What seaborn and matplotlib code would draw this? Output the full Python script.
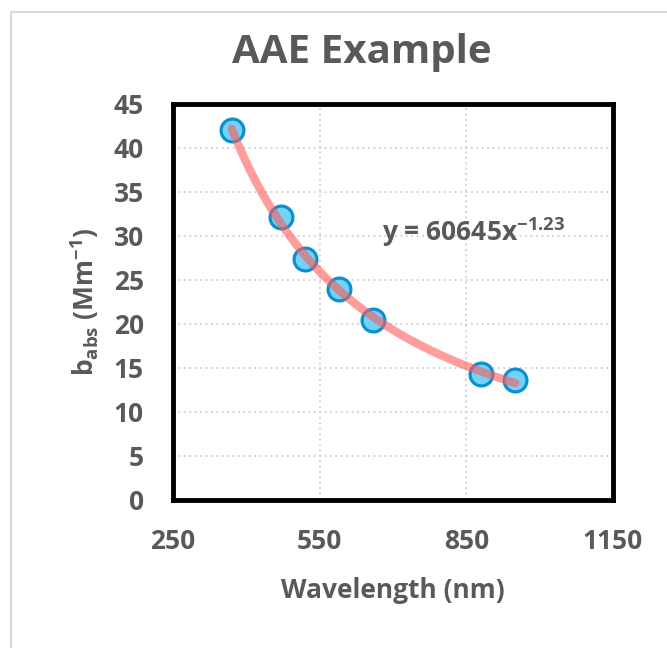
import numpy as np
import pandas as pd
import matplotlib
matplotlib.use("Agg")
import matplotlib.pyplot as plt
import seaborn as sns
from matplotlib.patches import Rectangle

wavelength = [370, 470, 520, 590, 660, 880, 950]
b_abs = [42.0, 32.2, 27.4, 24.0, 20.5, 14.3, 13.6]
x_ticks = [250, 550, 850, 1150]
y_ticks = [0, 5, 10, 15, 20, 25, 30, 35, 40, 45]
title = "AAE Example"
x_label = "Wavelength (nm)"
y_label = r"b$_{abs}$ (Mm$^{-1}$)"
eq_label = r"y = 60645x$^{-1.23}$"

FONT = "Open Sans"
sns.set_theme(style="white")
plt.rcParams["font.family"] = [FONT, "DejaVu Sans"]
plt.rcParams["font.weight"] = "bold"
plt.rcParams["mathtext.fontset"] = "custom"
plt.rcParams["mathtext.rm"] = FONT + ":bold"
plt.rcParams["mathtext.it"] = FONT + ":bold"
plt.rcParams["mathtext.bf"] = FONT + ":bold"
plt.rcParams["mathtext.default"] = "rm"

df = pd.DataFrame({"wavelength": wavelength, "b_abs": b_abs})

# power-law fit (trendline)
coef = np.polyfit(np.log(df["wavelength"]), np.log(df["b_abs"]), 1)
xs = np.linspace(min(wavelength), max(wavelength), 200)
fit = pd.DataFrame({"wavelength": xs, "b_abs": np.exp(coef[1]) * xs ** coef[0]})

fig = plt.figure(figsize=(6.67, 6.48), dpi=100)
fig.patches.append(Rectangle((11 / 667, -0.1), 1.2, 1.1 - 12 / 648,
                             transform=fig.transFigure, fill=False,
                             edgecolor="#d9d9d9", linewidth=1.5))
ax = fig.add_axes([173 / 667, 1 - 500 / 648, 440 / 667, 396 / 648])

sns.scatterplot(data=df, x="wavelength", y="b_abs", ax=ax, s=270,
                color="#72d3f6", edgecolor="#0a8fd0", linewidth=2.3, zorder=3)
sns.lineplot(data=fit, x="wavelength", y="b_abs", ax=ax, color="#ff5c5c",
             alpha=0.6, linewidth=6, zorder=4)

ax.set_xlim(250, 1150)
ax.set_ylim(0, 45)
ax.set_xticks(x_ticks)
ax.set_yticks(y_ticks)
ax.grid(True, color="#cfcfcf", linestyle=(0, (1, 2)), linewidth=1.3)
ax.tick_params(axis="both", length=0, labelsize=19, labelcolor="#595959")
ax.tick_params(axis="x", pad=20)
ax.tick_params(axis="y", pad=21)
for lab in ax.get_xticklabels() + ax.get_yticklabels():
    lab.set_fontweight("bold")
for sp in ax.spines.values():
    sp.set_color("black")
    sp.set_linewidth(3.5)

ax.set_xlabel(x_label, fontsize=19, fontweight="bold", color="#595959", labelpad=16)
ax.set_ylabel(y_label, fontsize=19, fontweight="bold", color="#595959", labelpad=9)
fig.text(362 / 667, 1 - 63 / 648, title, fontsize=29, fontweight="bold",
         color="#595959", ha="center", va="baseline")
ax.text(678, 30.4, eq_label, fontsize=19, fontweight="bold", color="#595959",
        ha="left", va="center")

fig.savefig("out.png", dpi=100)
